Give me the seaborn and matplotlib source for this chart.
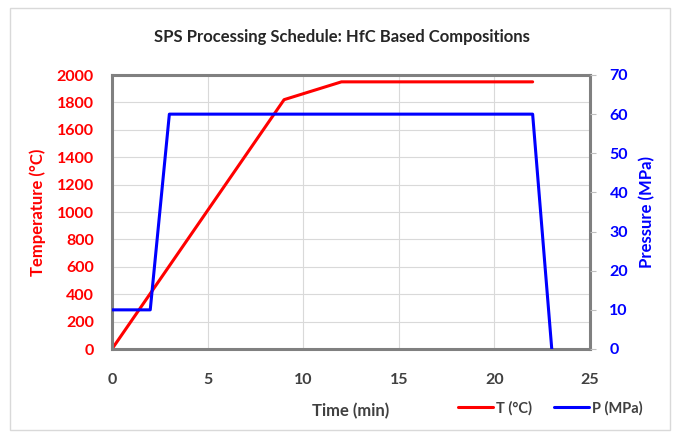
import matplotlib
matplotlib.use("Agg")
import matplotlib.pyplot as plt
from matplotlib.patches import Rectangle
import seaborn as sns
import pandas as pd

# Temperature schedule (°C) vs time (min)
temp_time = [0, 9, 12, 22]
temp_vals = [0, 1820, 1950, 1950]

# Pressure schedule (MPa) vs time (min)
pres_time = [0, 2, 3, 22, 23]
pres_vals = [10, 10, 60, 60, 0]

x_ticks = [0, 5, 10, 15, 20, 25]
t_ticks = list(range(0, 2001, 200))
p_ticks = list(range(0, 71, 10))

sns.set_style("white")
plt.rcParams["font.family"] = ["Lato", "DejaVu Sans"]
plt.rcParams["font.weight"] = "bold"

RED = "#ff0000"
BLUE = "#0000ff"

fig = plt.figure(figsize=(6.81, 4.40), dpi=100)
fig.patch.set_facecolor("white")
fig.patches.append(Rectangle((10 / 681, 10 / 440), 660 / 681, 422 / 440,
                             transform=fig.transFigure, fill=False,
                             edgecolor="#d9d9d9", linewidth=1.0))

ax = fig.add_axes([112 / 681, 91 / 440, 478 / 681, 274 / 440])
ax2 = ax.twinx()

df_t = pd.DataFrame({"time": temp_time, "value": temp_vals})
df_p = pd.DataFrame({"time": pres_time, "value": pres_vals})

sns.lineplot(data=df_t, x="time", y="value", ax=ax, color=RED, linewidth=2.2,
             label="T (°C)", legend=False)
sns.lineplot(data=df_p, x="time", y="value", ax=ax2, color=BLUE, linewidth=2.2,
             label="P (MPa)", legend=False)

ax.set_xlim(0, 25)
ax.set_ylim(0, 2000)
ax2.set_ylim(0, 70)
ax.set_xticks(x_ticks)
ax.set_yticks(t_ticks)
ax2.set_yticks(p_ticks)

ax.grid(True, color="#d9d9d9", linewidth=0.8)
ax.set_axisbelow(True)

for side in ["left", "right", "top", "bottom"]:
    ax.spines[side].set_color("#808080")
    ax.spines[side].set_linewidth(2.2)
    ax2.spines[side].set_visible(False)

ax.tick_params(axis="x", length=0, labelsize=11.5, pad=17, colors="#404040")
ax.tick_params(axis="y", length=0, labelsize=11.5, labelcolor=RED, pad=13)
ax2.tick_params(axis="y", length=4, color="#bfbfbf", labelsize=11.5,
                labelcolor=BLUE, pad=10)
for lbl in ax.get_xticklabels() + ax.get_yticklabels() + ax2.get_yticklabels():
    lbl.set_fontweight("bold")

ax.set_xlabel("Time (min)", fontsize=12, fontweight="bold", color="#404040",
              labelpad=12)
ax.set_ylabel("Temperature (°C)", fontsize=12, fontweight="bold", color=RED,
              labelpad=8)
ax2.set_ylabel("Pressure (MPa)", fontsize=12, fontweight="bold", color=BLUE,
               labelpad=8)

fig.text(342 / 681, 1 - 37 / 440, "SPS Processing Schedule: HfC Based Compositions",
         ha="center", va="center", fontsize=12, fontweight="bold", color="#262626")

handles = ax.get_lines()[:1] + ax2.get_lines()[:1]
leg = fig.legend(handles, ["T (°C)", "P (MPa)"], loc="center",
                 bbox_to_anchor=(550 / 681, 1 - 408 / 440), ncol=2, frameon=False,
                 fontsize=10.5, handlelength=2.4, handletextpad=0.2, columnspacing=1.5)
for txt in leg.get_texts():
    txt.set_color("#404040")
    txt.set_fontweight("bold")

fig.savefig("out.png", dpi=100)
